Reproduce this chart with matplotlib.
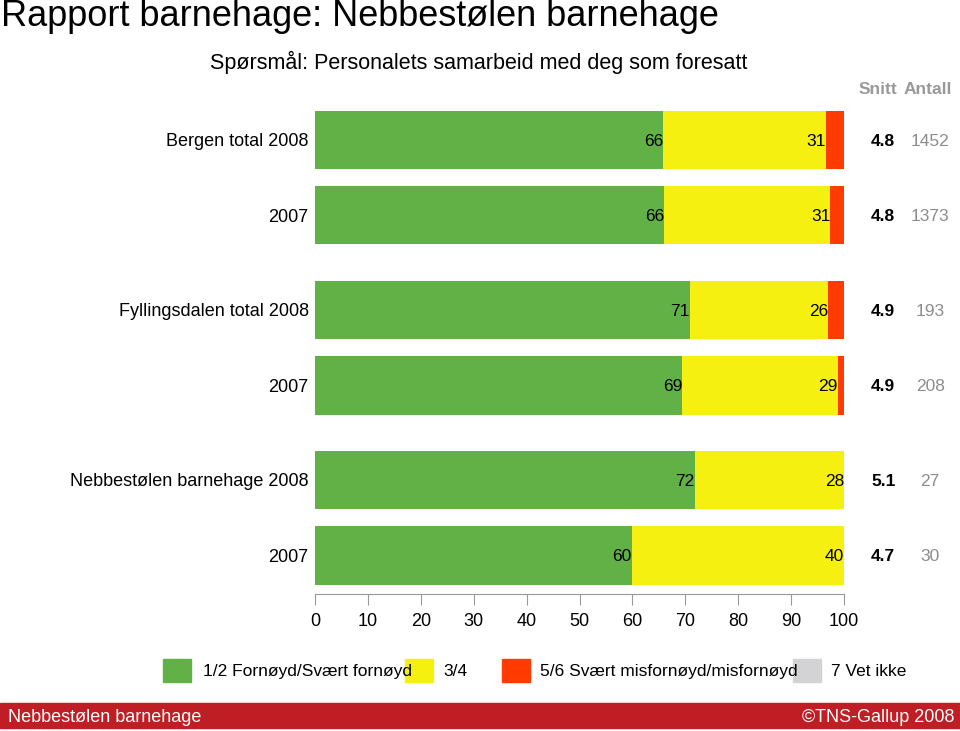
import matplotlib.pyplot as plt
from matplotlib.patches import Rectangle

plt.rcParams['font.family'] = ['Liberation Sans', 'DejaVu Sans']

# rows top to bottom
labels = ['Bergen total 2008', '2007', 'Fyllingsdalen total 2008', '2007',
          'Nebbestølen barnehage 2008', '2007']
fornoyd = [65.8, 66.0, 70.8, 69.4, 71.8, 59.9]
middels = [30.8, 31.4, 26.2, 29.4, 28.2, 40.1]
misfornoyd = [3.4, 2.6, 3.0, 1.2, 0, 0]
vet_ikke = [0, 0, 0, 0, 0, 0]
snitt = ['4.8', '4.8', '4.9', '4.9', '5.1', '4.7']
antall = ['1452', '1373', '193', '208', '27', '30']
ypos = [0, 1, 2.25, 3.25, 4.5, 5.5]

series = [fornoyd, middels, misfornoyd, vet_ikke]
colors = ['#62B146', '#F5F00F', '#FF3B00', '#D3D3D6']
legend_labels = ['1/2 Fornøyd/Svært fornøyd', '3/4', '5/6 Svært misfornøyd/misfornøyd', '7 Vet ikke']

fig = plt.figure(figsize=(9.6, 7.31), dpi=100)
ax = fig.add_axes([315/960, 1 - 594/731, (844 - 315)/960, (594 - 102)/731])

left = [0] * len(ypos)
for vals, col in zip(series, colors):
    ax.barh(ypos, vals, left=left, height=0.77, color=col, edgecolor='none')
    left = [l + v for l, v in zip(left, vals)]

# value labels, snitt and antall
va = 'center_baseline'
for i, y in enumerate(ypos):
    end1 = fornoyd[i]
    end2 = fornoyd[i] + middels[i]
    ax.text(end1, y, f'{fornoyd[i]:.0f}', ha='right', va=va, fontsize=12.5)
    ax.text(end2, y, f'{middels[i]:.0f}', ha='right', va=va, fontsize=12.5)
    ax.text(107.4, y, snitt[i], ha='center', va=va, fontsize=12.5, fontweight='bold')
    ax.text(116.3, y, antall[i], ha='center', va=va, fontsize=12.5, color='#8C8C8C')
    ax.text(-1.2, y, labels[i], ha='right', va=va, fontsize=13)

ax.text(106.4, -0.69, 'Snitt', ha='center', va=va, fontsize=12.5, fontweight='bold', color='#999999')
ax.text(115.9, -0.69, 'Antall', ha='center', va=va, fontsize=12.5, fontweight='bold', color='#999999')

ax.set_xlim(0, 100)
ax.set_ylim(6.01, -0.5)
ax.set_yticks([])
ax.set_xticks(range(0, 101, 10))
ax.tick_params(axis='x', length=8, color='#999999', labelsize=13, pad=6)
for s in ['top', 'right', 'left']:
    ax.spines[s].set_visible(False)
ax.spines['bottom'].set_color('#999999')

# titles
fig.text(1/960, 1 - 17/731, 'Rapport barnehage: Nebbestølen barnehage', fontsize=26, va='center', ha='left')
fig.text(210/960, 1 - 60/731, 'Spørsmål: Personalets samarbeid med deg som foresatt', fontsize=15.5, va=va, ha='left')

# legend
box_x = [163, 405, 502, 793]
text_x = [203, 443, 540, 831]
for bx, tx, col, lab in zip(box_x, text_x, colors, legend_labels):
    fig.patches.append(Rectangle((bx/960, 1 - 682/731), 28/960, 23/731,
                                 transform=fig.transFigure, color=col))
    fig.text(tx/960, 1 - 670/731, lab, fontsize=12.5, va=va, ha='left')

# footer band
fig.patches.append(Rectangle((0, 1 - 728/731), 1, 25/731, transform=fig.transFigure, color='#BE1E24'))
fig.text(8/960, 1 - 716/731, 'Nebbestølen barnehage', color='white', fontsize=13, va=va)
fig.text(955/960, 1 - 716/731, '©TNS-Gallup 2008', color='white', fontsize=13, va=va, ha='right')

fig.savefig('out.png', dpi=100)
